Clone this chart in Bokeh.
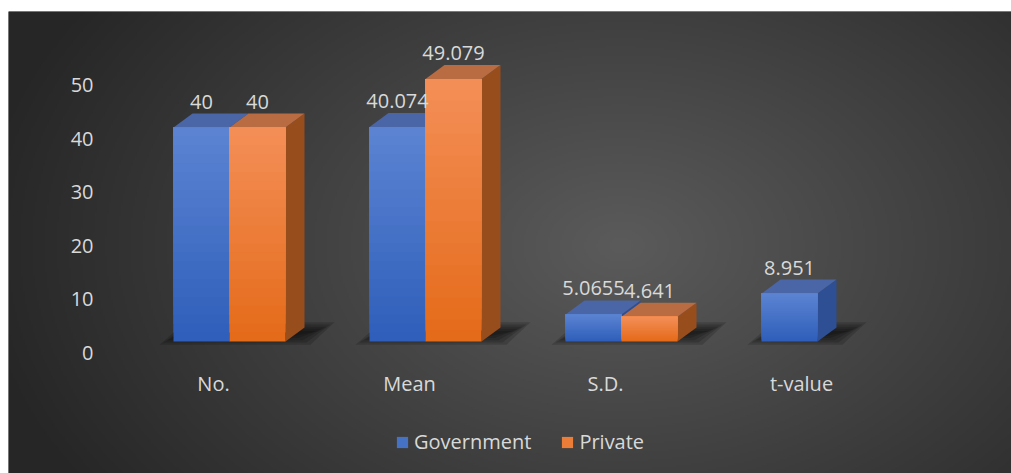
import numpy as np
from bokeh.plotting import figure
from bokeh.models import Range1d, ColumnDataSource, Legend, LegendItem
from bokeh.core.properties import value
from bokeh.embed import file_html
from bokeh.resources import INLINE

# ---------------- data ----------------
categories = ["No.", "Mean", "S.D.", "t-value"]
government = [40, 40.074, 5.0655, 8.951]
private = [40, 49.079, 4.641, None]
gov_labels = ["40", "40.074", "5.0655", "8.951"]
priv_labels = ["40", "49.079", "4.641", ""]
y_ticks = [0, 10, 20, 30, 40, 50]
series_names = ["Government", "Private"]

# ---------------- layout constants ----------------
W, H = 1011, 473
FL, FT = 8, 11
FW, FH = W - FL, H - FT
PX_X = 196.0
PX_Y = 5.35
X0_PX = 221
Y0_PX = 330
x_start = -X0_PX / PX_X
x_end = (FW - X0_PX) / PX_X
y_end = Y0_PX / PX_Y
y_start = -(FH - Y0_PX) / PX_Y
BW = 56 / PX_X
DX = 19 / PX_X
DY = 14 / PX_Y
FONT = value("Open Sans")
TXT = "#d9d9d9"
FS = "20px"

p = figure(width=W, height=H, x_range=Range1d(x_start, x_end), y_range=Range1d(y_start, y_end),
           output_backend="svg", toolbar_location=None, x_axis_location=None, y_axis_location=None,
           min_border_left=FL, min_border_top=FT, min_border_right=0, min_border_bottom=0)
p.grid.visible = False
p.outline_line_color = None
p.border_fill_color = "white"
p.background_fill_color = "#262626"

# ---------------- radial background ----------------
gw, gh = FW // 2, FH // 2
yy, xx = np.mgrid[0:gh, 0:gw]
fx = (xx + 0.5) * FW / gw
fy = (yy + 0.5) * FH / gh
cx, cy = 620 - FL, 245 - FT
r = np.sqrt(((fx - cx) / 650.0) ** 2 + ((fy - cy) / 440.0) ** 2)
lum = (38 + (91 - 38) * np.clip(1 - r, 0, 1)).astype(np.uint32)
img = (255 << 24) | (lum << 16) | (lum << 8) | lum
img = np.ascontiguousarray(img[::-1]).astype(np.uint32)
p.image_rgba(image=[img], x=x_start, y=y_start, dw=x_end - x_start, dh=y_end - y_start)

# ---------------- helpers ----------------
def mix(c1, c2, t):
    return "#%02x%02x%02x" % tuple(int(round(a + (b - a) * t)) for a, b in zip(c1, c2))

styles = {
    "Government": dict(top=(92, 132, 210), bot=(46, 94, 186), side="#2f4f94", cap="#4a66a6"),
    "Private": dict(top=(244, 143, 88), bot=(228, 106, 24), side="#984d1d", cap="#b96b42"),
}

N = 24
# shadows
for i, cat in enumerate(categories):
    vals = [government[i], private[i]]
    nbars = sum(v is not None for v in vals)
    left = i - BW
    right = i - BW + nbars * BW + DX
    for k in range(5):
        ins = k * 4 / PX_X
        insy = k * 2.2 / PX_Y
        xs = [left - 14 / PX_X + ins, right + 6 / PX_X - ins, right + 30 / PX_X - ins, left + 12 / PX_X + ins]
        ys = [-0.6 + insy, -0.6 + insy, 3.6 - insy, 3.6 - insy]
        p.patch(xs, ys, fill_color="black", fill_alpha=0.16, line_color=None)

front_renderers = {}
for s_idx, (name, vals) in enumerate(zip(series_names, [government, private])):
    st = styles[name]
    L, R, B, T, C = [], [], [], [], []
    side_xs, side_ys, cap_xs, cap_ys = [], [], [], []
    for i, v in enumerate(vals):
        if v is None:
            continue
        x0 = i - BW + s_idx * BW
        x1 = x0 + BW
        for k in range(N):
            L.append(x0); R.append(x1)
            B.append(v * k / N); T.append(v)
            C.append(mix(st["bot"], st["top"], (k + 0.5) / N))
        side_xs.append([x1, x1 + DX, x1 + DX, x1]); side_ys.append([0, DY, v + DY, v])
        cap_xs.append([x0, x1, x1 + DX, x0 + DX]); cap_ys.append([v, v, v + DY, v + DY])
    p.patches(side_xs, side_ys, fill_color=st["side"], line_color=None)
    p.patches(cap_xs, cap_ys, fill_color=st["cap"], line_color=None)
    src = ColumnDataSource(dict(left=L, right=R, bottom=B, top=T, color=C))
    front_renderers[name] = p.quad(left="left", right="right", bottom="bottom", top="top",
                                   fill_color="color", line_color=None, source=src)

# value labels
lx, ly, lt = [], [], []
for s_idx, (vals, labs) in enumerate(zip([government, private], [gov_labels, priv_labels])):
    for i, (v, t) in enumerate(zip(vals, labs)):
        if v is None:
            continue
        lx.append(i - BW / 2 + s_idx * BW); ly.append(v); lt.append(t)
p.text(x=lx, y=ly, text=lt, text_font=FONT, text_font_size=FS, text_color=TXT,
       text_align="center", text_baseline="middle", y_offset=-26)

# y tick labels
p.text(x=[(85 - X0_PX) / PX_X] * len(y_ticks), y=y_ticks, text=[str(t) for t in y_ticks],
       text_font=FONT, text_font_size=FS, text_color=TXT, text_align="right",
       text_baseline="middle", y_offset=11)

# category labels
p.text(x=list(range(len(categories))), y=[0] * len(categories), text=categories,
       text_font=FONT, text_font_size=FS, text_color=TXT, text_align="center",
       text_baseline="middle", x_offset=-16, y_offset=42)

legend = Legend(items=[LegendItem(label=n, renderers=[front_renderers[n]], index=N // 2) for n in series_names],
                orientation="horizontal", location=(387, 18), background_fill_alpha=0,
                border_line_color=None, padding=0, margin=0, spacing=29, label_standoff=5,
                glyph_width=14, glyph_height=14, label_height=20,
                label_text_font="Open Sans", label_text_color=TXT, label_text_font_size=FS)
p.add_layout(legend)

open("out.html", "w").write(file_html(p, INLINE))
